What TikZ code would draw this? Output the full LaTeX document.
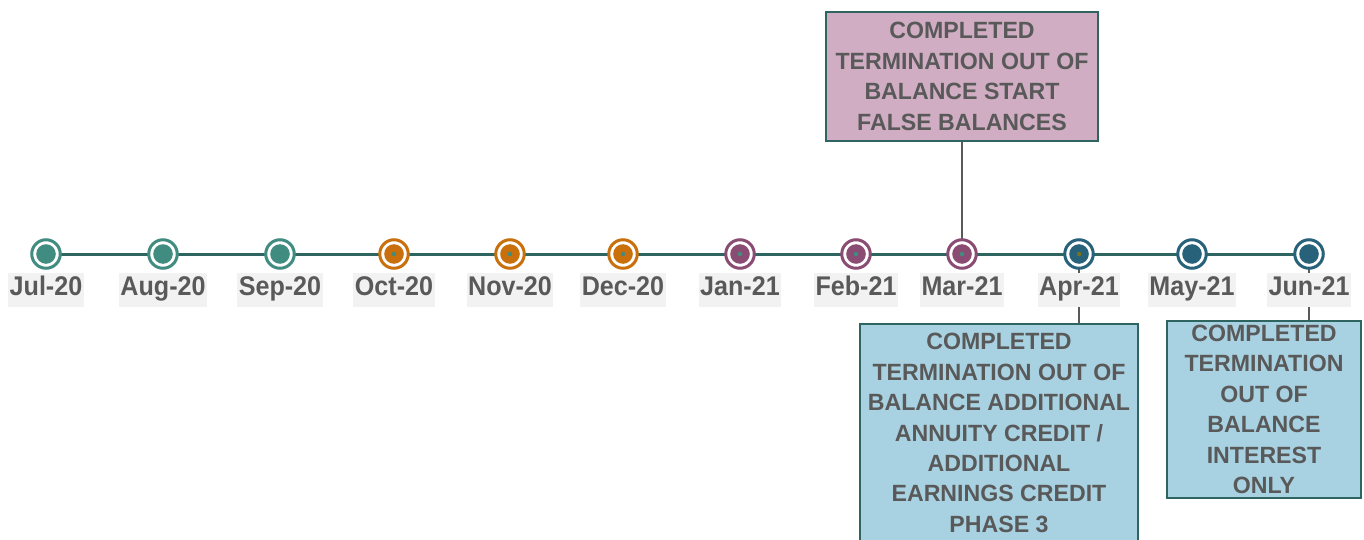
\documentclass[tikz,border=0pt]{standalone}
\usepackage{fontspec}
\setmainfont{Liberation Sans}[FakeStretch=0.985]
\newfontfamily\datefont{Liberation Sans}[FakeStretch=0.93]
\usetikzlibrary{backgrounds}

\definecolor{tealc}{HTML}{418C80}
\definecolor{orangec}{HTML}{C96F0B}
\definecolor{purplec}{HTML}{8A4C72}
\definecolor{navyc}{HTML}{28627A}
\definecolor{linec}{HTML}{2F6560}
\definecolor{textc}{HTML}{595959}
\definecolor{lblbg}{HTML}{F2F2F2}
\definecolor{pinkbox}{HTML}{D0ADC3}
\definecolor{bluebox}{HTML}{A8D2E2}

\tikzset{
	ring/.style={circle, draw=#1, line width=3pt, fill=white, minimum size=28.5pt, inner sep=0pt},
	datelbl/.style={fill=lblbg, text=textc, font=\datefont\bfseries\fontsize{27}{27}\selectfont,
		inner xsep=1.5pt, inner ysep=0pt, minimum height=34pt},
	notefont/.style={font=\bfseries\fontsize{23.5}{30.4}\selectfont},
	notebox/.style={draw=linec, line width=2pt, fill=#1, text=textc, align=center, notefont, inner sep=0pt},
	stem/.style={draw=textc, line width=1.5pt}
}

\begin{document}
\begin{tikzpicture}[x=1pt, y=-1pt, line cap=butt]
	\useasboundingbox (0,0) rectangle (1364,540);
	% months along the line
	\foreach \x/\m/\c [count=\i] in {46/Jul-20/tealc, 163/Aug-20/tealc, 280/Sep-20/tealc,
		394/Oct-20/orangec, 510/Nov-20/orangec, 623/Dec-20/orangec,
		740/Jan-21/purplec, 856/Feb-21/purplec, 962/Mar-21/purplec,
		1079/Apr-21/navyc, 1192/May-21/navyc, 1309/Jun-21/navyc}
	{
		\node[ring=\c] (d\i) at (\x,254) {};
		\fill[\c] (d\i.center) circle (9.8);
		\node[datelbl] (l\i) at (\x,290) {\strut\m};
	}
	% small dots in the middle
	\foreach \i in {4,...,9}
		\fill[tealc] (d\i.center) circle (2.2);
	\fill[olive!80!black] (d10.center) circle (2.2);

	% notes
	\node[notebox=pinkbox, minimum width=272pt, minimum height=129pt] (mar) at (962,76.5)
		{COMPLETED\\TERMINATION OUT OF\\BALANCE START\\FALSE BALANCES};
	\node[notebox=bluebox, anchor=north, minimum width=278pt, minimum height=230pt] (apr) at (999,323) {};
	\node[text=textc, align=center, notefont, anchor=north] (aprtext) at (999,330)
		{COMPLETED\\TERMINATION OUT OF\\BALANCE ADDITIONAL\\ANNUITY CREDIT /\\ADDITIONAL\\EARNINGS CREDIT\\PHASE 3};
	\node[notebox=bluebox, minimum width=194pt, minimum height=177pt] (jun) at (1264,409.5)
		{COMPLETED\\TERMINATION\\OUT OF\\BALANCE\\INTEREST\\ONLY};

	\begin{pgfonlayer}{background}
		\draw[linec, line width=3pt] (d1.center) -- (d12.center);
		\draw[stem] (mar.south) -- (d9.center);
		\draw[stem] (d10.center) -- (d10 |- apr.north);
		\draw[stem] (d12.center) -- (d12 |- jun.north);
	\end{pgfonlayer}
\end{tikzpicture}
\end{document}
